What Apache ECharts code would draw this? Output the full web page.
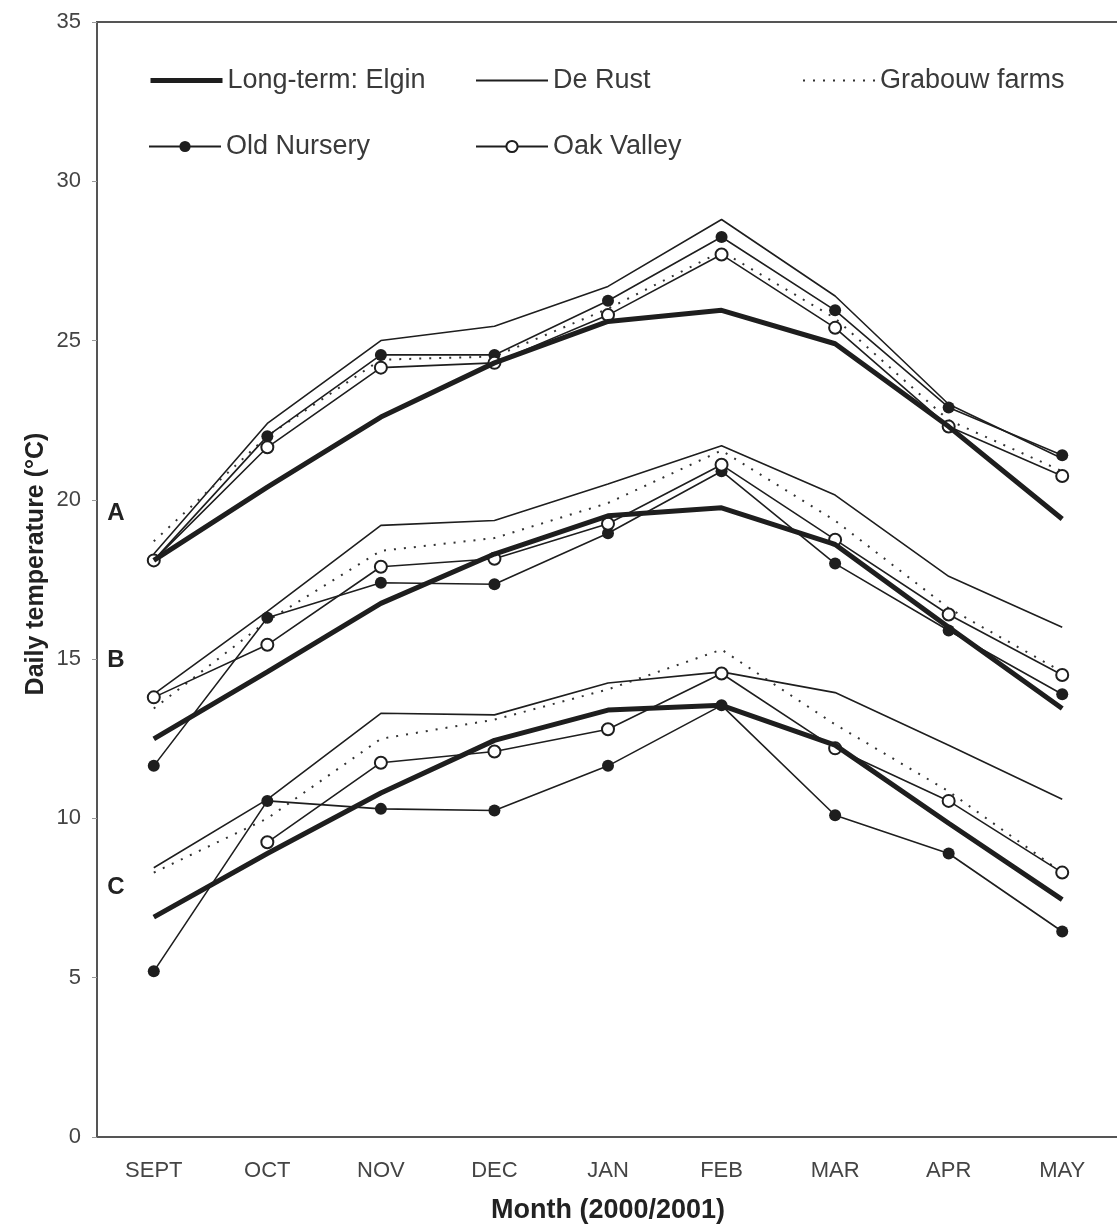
<!DOCTYPE html>
<html>
<head>
<meta charset="utf-8">
<script src="https://cdn.jsdelivr.net/npm/echarts@6/dist/echarts.min.js"></script>
<style>
  html, body { margin: 0; padding: 0; background: #fff; }
  #chart { width: 1117px; height: 1228px; }
</style>
</head>
<body>
<div id="chart"></div>
<script>
// Months of the 2000/2001 season
const months = ['SEPT', 'OCT', 'NOV', 'DEC', 'JAN', 'FEB', 'MAR', 'APR', 'MAY'];
const yTicks = [0, 5, 10, 15, 20, 25, 30, 35];

// A: maximum daily temperature (°C)
const elginA      = [18.1, 20.4, 22.6, 24.3, 25.6, 25.95, 24.9, 22.3, 19.4];
const deRustA     = [18.3, 22.4, 25.0, 25.45, 26.7, 28.8, 26.4, 23.0, 21.3];
const grabouwA    = [18.7, 22.0, 24.4, 24.5, 26.0, 27.8, 25.7, 22.5, 20.9];
const oldNurseryA = [18.1, 22.0, 24.55, 24.55, 26.25, 28.25, 25.95, 22.9, 21.4];
const oakValleyA  = [18.1, 21.65, 24.15, 24.3, 25.8, 27.7, 25.4, 22.3, 20.75];

// B: mean daily temperature (°C)
const elginB      = [12.5, 14.6, 16.75, 18.3, 19.5, 19.75, 18.6, 16.0, 13.45];
const deRustB     = [13.9, 16.5, 19.2, 19.35, 20.5, 21.7, 20.15, 17.6, 16.0];
const grabouwB    = [13.45, 16.2, 18.4, 18.8, 19.9, 21.55, 19.35, 16.6, 14.6];
const oldNurseryB = [11.65, 16.3, 17.4, 17.35, 18.95, 20.9, 18.0, 15.9, 13.9];
const oakValleyB  = [13.8, 15.45, 17.9, 18.15, 19.25, 21.1, 18.75, 16.4, 14.5];

// C: minimum daily temperature (°C)
const elginC      = [6.9, 8.9, 10.8, 12.45, 13.4, 13.55, 12.3, 9.85, 7.45];
const deRustC     = [8.45, 10.6, 13.3, 13.25, 14.25, 14.6, 13.95, 12.3, 10.6];
const grabouwC    = [8.3, 10.0, 12.5, 13.1, 14.05, 15.3, 12.95, 10.85, 8.3];
const oldNurseryC = [5.2, 10.55, 10.3, 10.25, 11.65, 13.55, 10.1, 8.9, 6.45];
const oakValleyC  = [null, 9.25, 11.75, 12.1, 12.8, 14.55, 12.2, 10.55, 8.3];

const NAMES = {
  elgin: 'Long-term: Elgin',
  deRust: 'De Rust',
  grabouw: 'Grabouw farms',
  oldNursery: 'Old Nursery',
  oakValley: 'Oak Valley'
};

const INK = '#1e1e1e';
const FONT = '"Liberation Sans", Arial, Helvetica, sans-serif';

// Line style per site
const styles = {
  elgin:      { lineStyle: { color: INK, width: 5 }, symbol: 'none', itemStyle: { color: INK }, z: 5 },
  deRust:     { lineStyle: { color: INK, width: 1.6 }, symbol: 'none', itemStyle: { color: INK }, z: 3 },
  grabouw:    { lineStyle: { color: '#333', width: 2, type: [2, 8] }, symbol: 'none', itemStyle: { color: INK }, z: 3 },
  oldNursery: { lineStyle: { color: INK, width: 1.6 }, symbol: 'circle', symbolSize: 12,
                itemStyle: { color: INK, borderWidth: 0 }, z: 4 },
  oakValley:  { lineStyle: { color: INK, width: 1.6 }, symbol: 'circle', symbolSize: 12,
                itemStyle: { color: '#fff', borderColor: INK, borderWidth: 2 }, z: 4 }
};

const groups = [
  { elgin: elginA, deRust: deRustA, grabouw: grabouwA, oldNursery: oldNurseryA, oakValley: oakValleyA },
  { elgin: elginB, deRust: deRustB, grabouw: grabouwB, oldNursery: oldNurseryB, oakValley: oakValleyB },
  { elgin: elginC, deRust: deRustC, grabouw: grabouwC, oldNursery: oldNurseryC, oakValley: oakValleyC }
];

const series = [];
groups.forEach(function (g) {
  Object.keys(NAMES).forEach(function (key) {
    const s = styles[key];
    series.push(Object.assign({
      type: 'line',
      name: NAMES[key],
      data: g[key],
      showSymbol: s.symbol !== 'none',
      connectNulls: false,
      animation: false,
      silent: true,
      emphasis: { disabled: true }
    }, JSON.parse(JSON.stringify(s))));
  });
});

// One legend block per entry so each sits where it belongs
function legendItem(key, left, top, extra) {
  return Object.assign({
    data: [NAMES[key]],
    left: left,
    top: top,
    itemWidth: 72,
    itemHeight: 14,
    itemGap: 0,
    selectedMode: false,
    textStyle: { fontFamily: FONT, fontSize: 27, color: '#3a3a3a', padding: [0, 0, 0, 0] }
  }, extra || {});
}

// plain lines in the legend carry no marker
const noMarker = { itemStyle: { opacity: 0 } };

const option = {
  backgroundColor: '#fff',
  animation: false,
  textStyle: { fontFamily: FONT },
  grid: {
    left: 97, top: 22, width: 1022, height: 1115,
    outerBoundsMode: 'none',
    show: true, borderColor: '#555', borderWidth: 2
  },
  legend: [
    legendItem('elgin', 143, 62, { lineStyle: { width: 5 }, itemStyle: { opacity: 0 } }),
    legendItem('deRust', 470, 62, noMarker),
    legendItem('grabouw', 797, 62, noMarker),
    legendItem('oldNursery', 143, 128),
    legendItem('oakValley', 470, 128)
  ],
  xAxis: {
    type: 'category',
    data: months,
    boundaryGap: true,
    name: 'Month (2000/2001)',
    nameLocation: 'middle',
    nameGap: 60,
    nameTextStyle: { fontFamily: FONT, fontSize: 27, fontWeight: 'bold', color: '#222' },
    axisLine: { lineStyle: { color: '#555', width: 2 } },
    axisTick: { show: false },
    axisLabel: { margin: 23, fontFamily: FONT, fontSize: 22, color: '#444' },
    splitLine: { show: false }
  },
  yAxis: {
    type: 'value',
    min: 0,
    max: 35,
    interval: 5,
    axisLine: { show: true, lineStyle: { color: '#555', width: 2 } },
    axisTick: { show: true, length: 5, lineStyle: { color: '#999', width: 1 } },
    axisLabel: {
      margin: 16, fontFamily: FONT, fontSize: 22, color: '#444',
      formatter: function (v) { return yTicks.indexOf(v) >= 0 ? String(v) : ''; }
    },
    splitLine: { show: false }
  },
  graphic: [
    {
      type: 'text',
      x: 36, y: 564,
      rotation: Math.PI / 2,
      style: {
        text: 'Daily temperature (°C)', fontFamily: FONT, fontSize: 25, fontWeight: 'bold',
        fill: '#222', textAlign: 'center', textVerticalAlign: 'middle'
      }
    },
    { type: 'text', x: 116, y: 513, style: { text: 'A', fontFamily: FONT, fontSize: 24, fontWeight: 'bold', fill: '#222', textAlign: 'center', textVerticalAlign: 'middle' } },
    { type: 'text', x: 116, y: 660, style: { text: 'B', fontFamily: FONT, fontSize: 24, fontWeight: 'bold', fill: '#222', textAlign: 'center', textVerticalAlign: 'middle' } },
    { type: 'text', x: 116, y: 887, style: { text: 'C', fontFamily: FONT, fontSize: 24, fontWeight: 'bold', fill: '#222', textAlign: 'center', textVerticalAlign: 'middle' } }
  ],
  series: series
};

const chart = echarts.init(document.getElementById('chart'), null, { renderer: 'canvas' });
chart.setOption(option);
</script>
</body>
</html>
